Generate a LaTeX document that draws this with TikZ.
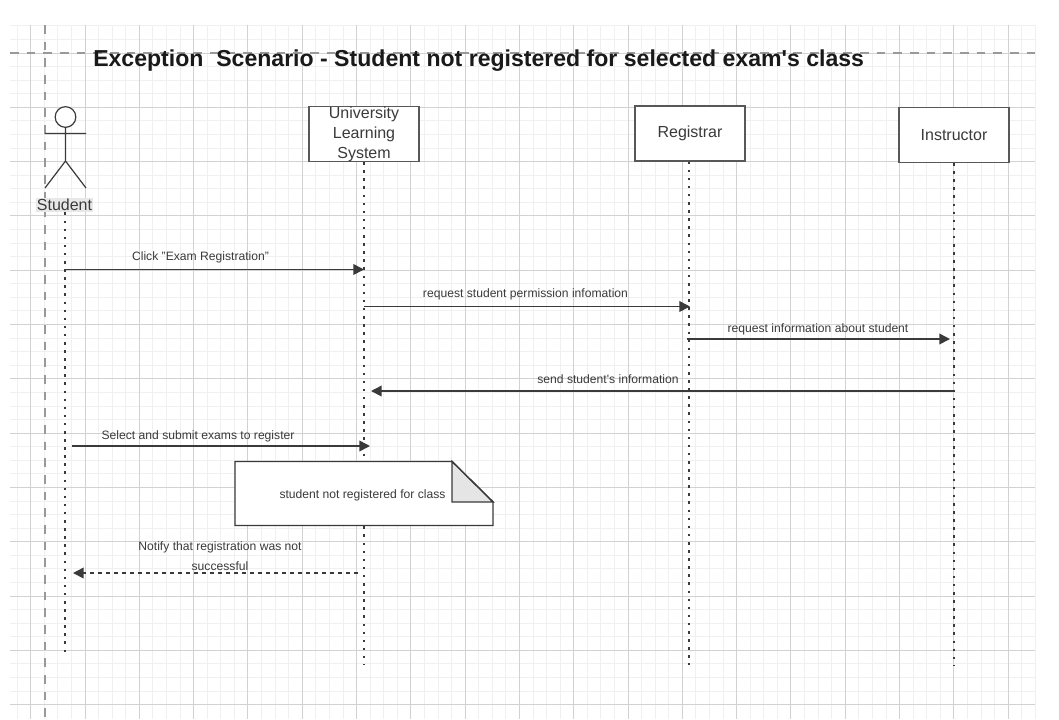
\documentclass[tikz,border=0pt]{standalone}
\usepackage{fontspec}
\usepackage{xcolor}
\usetikzlibrary{positioning,arrows.meta,calc}
\setmainfont{Liberation Sans}
\definecolor{ink}{HTML}{3A3A3A}
\definecolor{gridmajor}{HTML}{D2D2D2}
\definecolor{gridminor}{HTML}{F0F0F0}
\tikzset{
  lifebox/.style={draw=ink!85,line width=1.1pt,fill=white,minimum width=82.5pt,minimum height=41pt,inner sep=0pt,font=\fontsize{12}{15}\selectfont,text=ink,align=center},
  lifeline/.style={ink,line width=1.4pt,dash pattern=on 1.9pt off 4.17pt},
  msg/.style={ink,line width=1.2pt,-{Triangle[length=8pt,width=8pt]}},
  msgback/.style={msg,dash pattern=on 3pt off 3pt},
  msglabel/.style={font=\fontsize{9.1}{12}\selectfont,text=ink,inner sep=0pt,align=center},
}
\begin{document}
\begin{tikzpicture}[x=0.75pt,y=-0.75pt]
  \useasboundingbox (0,0) rectangle (1059,719);
  \fill[white] (0,0) rectangle (1059,719);
  % paper grid
  \foreach \k in {0,...,75}{\draw[gridminor,line width=0.6pt] ({17.1+13.575*\k},25)--({17.1+13.575*\k},719);}
  \foreach \k in {0,...,49}{\draw[gridminor,line width=0.6pt] (10,{25.8+13.575*\k})--(1035,{25.8+13.575*\k});}
  \foreach \k in {0,...,18}{\draw[gridmajor,line width=0.7pt] ({30.7+54.3*\k},25)--({30.7+54.3*\k},719);}
  \foreach \k in {0,...,12}{\draw[gridmajor,line width=0.7pt] (10,{53+54.3*\k})--(1035,{53+54.3*\k});}
  \draw[black!40,line width=0.8pt,dash pattern=on 6.5pt off 6pt] (45,25)--(45,719);
  \draw[black!40,line width=0.8pt,dash pattern=on 6.5pt off 6pt] (10,53)--(1035,53);
  \node[font=\fontsize{17.3}{20}\selectfont\bfseries,text=black!90,inner sep=0pt,anchor=base west] (title) at (93,66.7) {Exception\ \ Scenario - Student not registered for selected exam\textquotesingle s class};
  % actor
  \node[draw=ink,circle,line width=0.9pt,fill=white,minimum size=15.5pt,inner sep=0pt] (head) at (65.5,117) {};
  \coordinate (hip) at (65.5,161);
  \coordinate (armL) at (45,133.5);
  \coordinate (armR) at (86,133.5);
  \coordinate (footL) at (45,188);
  \coordinate (footR) at (86,188);
  \draw[ink,line width=0.9pt] (head)--(hip) (armL)--(armR) (footL)--(hip)--(footR);
  \node[fill=black!9,inner sep=1pt,font=\fontsize{12}{14}\selectfont,text=ink] (student) at (64.5,205) {Student};
  \node[lifebox] (uni) at (364,134) {University\\Learning\\System};
  \node[lifebox] (reg) at (690,133.5) {Registrar};
  \node[lifebox] (ins) at (954,135) {Instructor};
  % lifelines
  \coordinate (studentend) at (65,652);
  \coordinate (uniend) at (364,665);
  \coordinate (regend) at (689,665);
  \coordinate (insend) at (954,665);
  \draw[lifeline] (student.south -| studentend)--(studentend);
  \draw[lifeline] (uni.south)--(uniend);
  \draw[lifeline] (reg.south -| regend)--(regend);
  \draw[lifeline] (ins.south -| insend)--(insend);
  % messages
  \coordinate (a1) at (66,269.5); \coordinate (b1) at (364,269.5);
  \coordinate (a2) at (364,306.5); \coordinate (b2) at (690,306.5);
  \coordinate (a3) at (687,339); \coordinate (b3) at (950,339);
  \coordinate (a4) at (954,391); \coordinate (b4) at (371,391);
  \coordinate (a5) at (72,446); \coordinate (b5) at (370,446);
  \coordinate (a6) at (358,573); \coordinate (b6) at (73,573);
  \draw[msg] (a1)--(b1);
  \draw[msg] (a2)--(b2);
  \draw[msg] (a3)--(b3);
  \draw[msg] (a4)--(b4);
  \draw[msg] (a5)--(b5);
  \draw[msgback] (a6)--(b6);
  \node[msglabel] (m1) at (200.5,257.5) {Click "Exam Registration"};
  \node[msglabel] (m2) at (525.5,294) {request student permission infomation};
  \node[msglabel] (m3) at (818,329) {request information about student};
  \node[msglabel] (m4) at (608,379) {send student\textquotesingle s information};
  \node[msglabel] (m5) at (198,436) {Select and submit exams to register};
  \node[msglabel] (m6) at (220,556.5) {Notify that registration was not\\[3pt]successful};
  % note
  \coordinate (n1) at (235,461.5); \coordinate (n2) at (452,461.5); \coordinate (n3) at (493,502);
  \coordinate (n4) at (493,525.5); \coordinate (n5) at (235,525.5); \coordinate (n6) at (452,502);
  \draw[ink,line width=1.1pt,fill=white] (n1)--(n2)--(n3)--(n4)--(n5)--cycle;
  \draw[ink,line width=1.1pt,fill=black!10] (n2)--(n3)--(n6)--cycle;
  \node[msglabel] (note) at (362.5,495.5) {student not registered for class};
\end{tikzpicture}
\end{document}
